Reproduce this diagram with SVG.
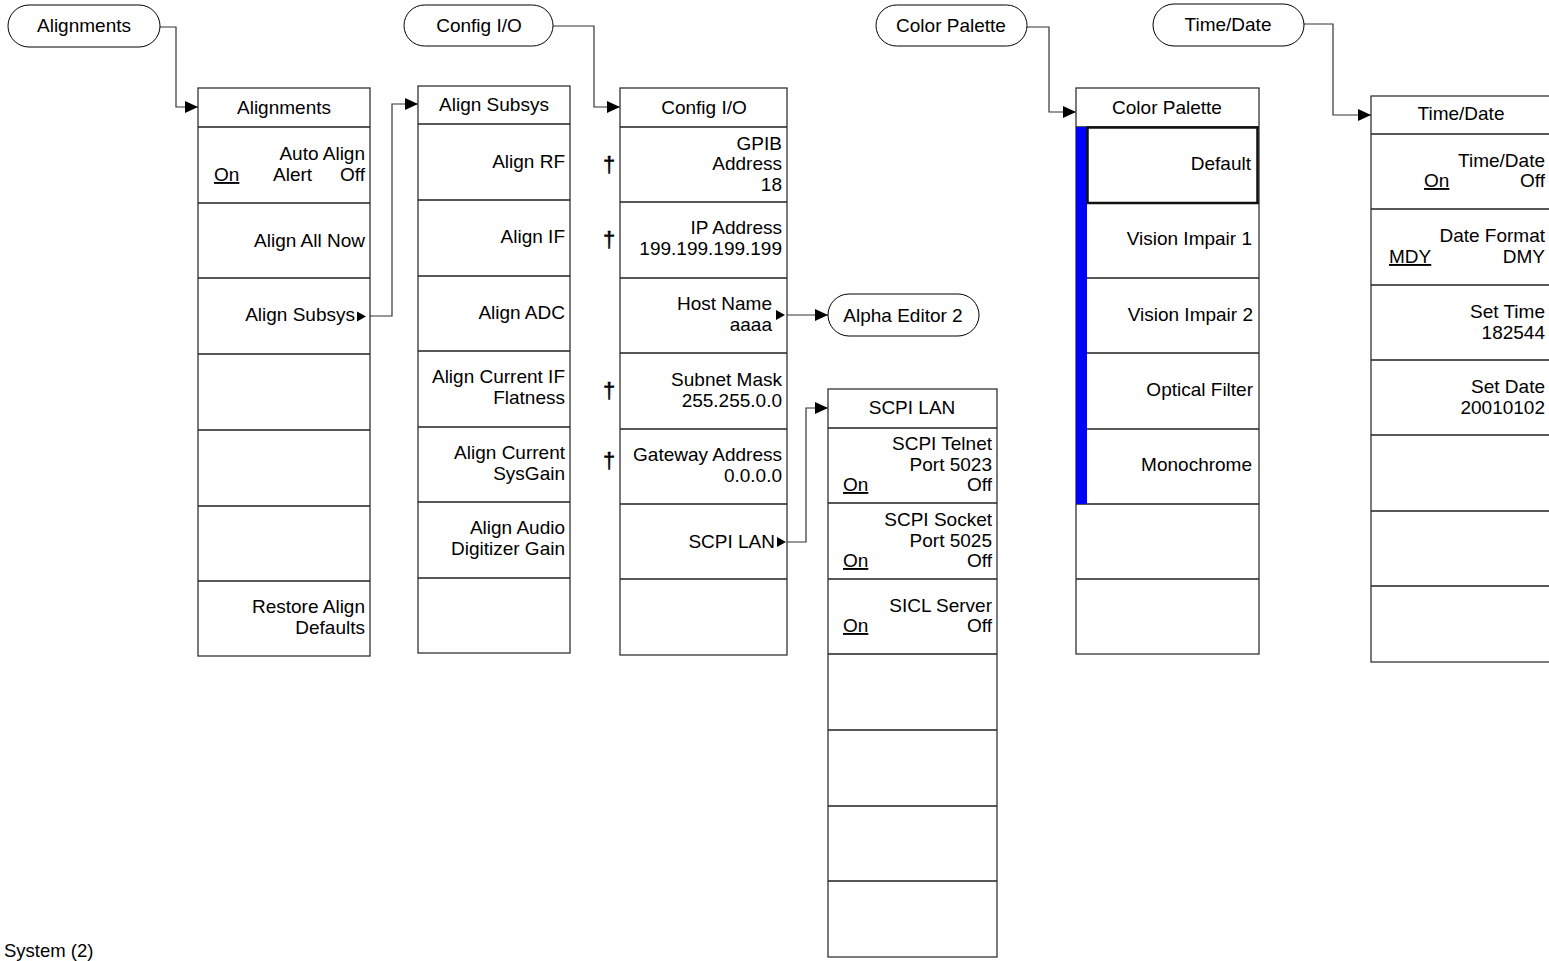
<svg xmlns="http://www.w3.org/2000/svg" width="1549" height="961" viewBox="0 0 1549 961">
<defs>
<marker id="arr" markerUnits="userSpaceOnUse" markerWidth="14" markerHeight="12" refX="13" refY="6" orient="auto">
<path d="M0,0 L13,6 L0,12 Z" fill="#000"/>
</marker>
<style>
text{font-family:"Liberation Sans",Arial,sans-serif;font-size:19px;fill:#000}
.r{text-anchor:end}
.c{text-anchor:middle}
.u{text-decoration:underline}
.dag{font-size:22px;stroke:#000;stroke-width:0.5}
.box{fill:#fff;stroke:#333;stroke-width:1.3}
.div{stroke:#222;stroke-width:1.3}
.pill{fill:#fff;stroke:#000;stroke-width:1}
.con{fill:none;stroke:#333;stroke-width:1.2}
.tri{fill:#000}
</style>
</defs>
<rect width="1549" height="961" fill="#fff"/>

<g id="connectors">
<path class="con" d="M160,27 H176 V107 H198" marker-end="url(#arr)"/>
<path class="con" d="M553,26 H594 V107 H620" marker-end="url(#arr)"/>
<path class="con" d="M1027,27 H1049 V112 H1076" marker-end="url(#arr)"/>
<path class="con" d="M1304,24 H1333 V115 H1371" marker-end="url(#arr)"/>
<path class="con" d="M367,316 H392 V104 H418" marker-end="url(#arr)"/>
<path class="con" d="M787,315 H828" marker-end="url(#arr)"/>
<path class="con" d="M787,542 H806 V408 H828" marker-end="url(#arr)"/>
</g>

<g id="pill-alignments">
<rect class="pill" x="8" y="5" width="152" height="42" rx="21"/>
<text class="c" x="84" y="32">Alignments</text>
</g>
<g id="pill-config">
<rect class="pill" x="404" y="5" width="149" height="41" rx="20.5"/>
<text class="c" x="479" y="32">Config I/O</text>
</g>
<g id="pill-color">
<rect class="pill" x="876" y="5" width="151" height="41" rx="20.5"/>
<text class="c" x="951" y="32">Color Palette</text>
</g>
<g id="pill-time">
<rect class="pill" x="1153" y="4" width="151" height="42" rx="21"/>
<text class="c" x="1228" y="31">Time/Date</text>
</g>
<g id="pill-alpha">
<rect class="pill" x="828" y="294" width="151" height="42" rx="21"/>
<text class="c" x="903" y="322">Alpha Editor 2</text>
</g>

<g id="menu-alignments">
<rect class="box" x="198" y="88" width="172" height="568"/>
<path class="div" d="M198,127H370M198,203H370M198,278H370M198,354H370M198,430H370M198,506H370M198,581H370"/>
<text class="c" x="284" y="114">Alignments</text>
<text class="r" x="365" y="160">Auto Align</text>
<text class="u" x="214" y="181">On</text>
<text x="273" y="181">Alert</text>
<text class="r" x="365" y="181">Off</text>
<text class="r" x="365" y="247">Align All Now</text>
<text class="r" x="355" y="321">Align Subsys</text>
<polygon class="tri" points="357,311.5 357,321.5 366,316.5"/>
<text class="r" x="365" y="613">Restore Align</text>
<text class="r" x="365" y="634">Defaults</text>
</g>

<g id="menu-alignsubsys">
<rect class="box" x="418" y="86" width="152" height="567"/>
<path class="div" d="M418,124H570M418,200H570M418,276H570M418,351H570M418,427H570M418,502H570M418,578H570"/>
<text class="c" x="494" y="111">Align Subsys</text>
<text class="r" x="565" y="168">Align RF</text>
<text class="r" x="565" y="243">Align IF</text>
<text class="r" x="565" y="319">Align ADC</text>
<text class="r" x="565" y="383">Align Current IF</text>
<text class="r" x="565" y="404">Flatness</text>
<text class="r" x="565" y="459">Align Current</text>
<text class="r" x="565" y="480">SysGain</text>
<text class="r" x="565" y="534">Align Audio</text>
<text class="r" x="565" y="555">Digitizer Gain</text>
</g>

<g id="menu-configio">
<rect class="box" x="620" y="88" width="167" height="567"/>
<path class="div" d="M620,127H787M620,202H787M620,278H787M620,353H787M620,429H787M620,504H787M620,579H787"/>
<text class="c" x="704" y="114">Config I/O</text>
<text class="r" x="782" y="150">GPIB</text>
<text class="r" x="782" y="170">Address</text>
<text class="r" x="782" y="191">18</text>
<text class="r" x="782" y="234">IP Address</text>
<text class="r" x="782" y="255">199.199.199.199</text>
<text class="r" x="772" y="310">Host Name</text>
<text class="r" x="772" y="331">aaaa</text>
<polygon class="tri" points="776,310 776,320 785,315"/>
<text class="r" x="782" y="386">Subnet Mask</text>
<text class="r" x="782" y="407">255.255.0.0</text>
<text class="r" x="782" y="461">Gateway Address</text>
<text class="r" x="782" y="482">0.0.0.0</text>
<text class="r" x="775" y="548">SCPI LAN</text>
<polygon class="tri" points="777,537 777,547 786,542"/>
<text class="dag" x="603" y="172">†</text>
<text class="dag" x="603" y="247">†</text>
<text class="dag" x="603" y="398">†</text>
<text class="dag" x="603" y="468">†</text>
</g>

<g id="menu-scpilan">
<rect class="box" x="828" y="389" width="169" height="568"/>
<path class="div" d="M828,428H997M828,503H997M828,579H997M828,654H997M828,730H997M828,806H997M828,881H997"/>
<text class="c" x="912" y="414">SCPI LAN</text>
<text class="r" x="992" y="450">SCPI Telnet</text>
<text class="r" x="992" y="471">Port 5023</text>
<text class="u" x="843" y="491">On</text>
<text class="r" x="992" y="491">Off</text>
<text class="r" x="992" y="526">SCPI Socket</text>
<text class="r" x="992" y="547">Port 5025</text>
<text class="u" x="843" y="567">On</text>
<text class="r" x="992" y="567">Off</text>
<text class="r" x="992" y="612">SICL Server</text>
<text class="u" x="843" y="632">On</text>
<text class="r" x="992" y="632">Off</text>
</g>

<g id="menu-colorpalette">
<rect class="box" x="1076" y="88" width="183" height="566"/>
<path class="div" d="M1076,127H1259M1076,203H1259M1076,278H1259M1076,353H1259M1076,429H1259M1076,504H1259M1076,579H1259"/>
<rect x="1076" y="127" width="11" height="377" fill="#0000ff"/>
<rect x="1087.5" y="127.5" width="170" height="75.5" fill="none" stroke="#111" stroke-width="2.5"/>
<text class="c" x="1167" y="114">Color Palette</text>
<text class="r" x="1251" y="170">Default</text>
<text class="r" x="1252" y="245">Vision Impair 1</text>
<text class="r" x="1253" y="321">Vision Impair 2</text>
<text class="r" x="1253" y="396">Optical Filter</text>
<text class="r" x="1252" y="471">Monochrome</text>
</g>

<g id="menu-timedate">
<rect class="box" x="1371" y="96" width="190" height="566"/>
<path class="div" d="M1371,134H1561M1371,209H1561M1371,285H1561M1371,360H1561M1371,435H1561M1371,511H1561M1371,586H1561"/>
<text class="c" x="1461" y="120">Time/Date</text>
<text class="r" x="1545" y="167">Time/Date</text>
<text class="u" x="1424" y="187">On</text>
<text class="r" x="1545" y="187">Off</text>
<text class="r" x="1545" y="242">Date Format</text>
<text class="u" x="1389" y="263">MDY</text>
<text class="r" x="1545" y="263">DMY</text>
<text class="r" x="1545" y="318">Set Time</text>
<text class="r" x="1545" y="339">182544</text>
<text class="r" x="1545" y="393">Set Date</text>
<text class="r" x="1545" y="414">20010102</text>
</g>

<text x="4" y="957" style="font-size:18.5px">System (2)</text>
</svg>
